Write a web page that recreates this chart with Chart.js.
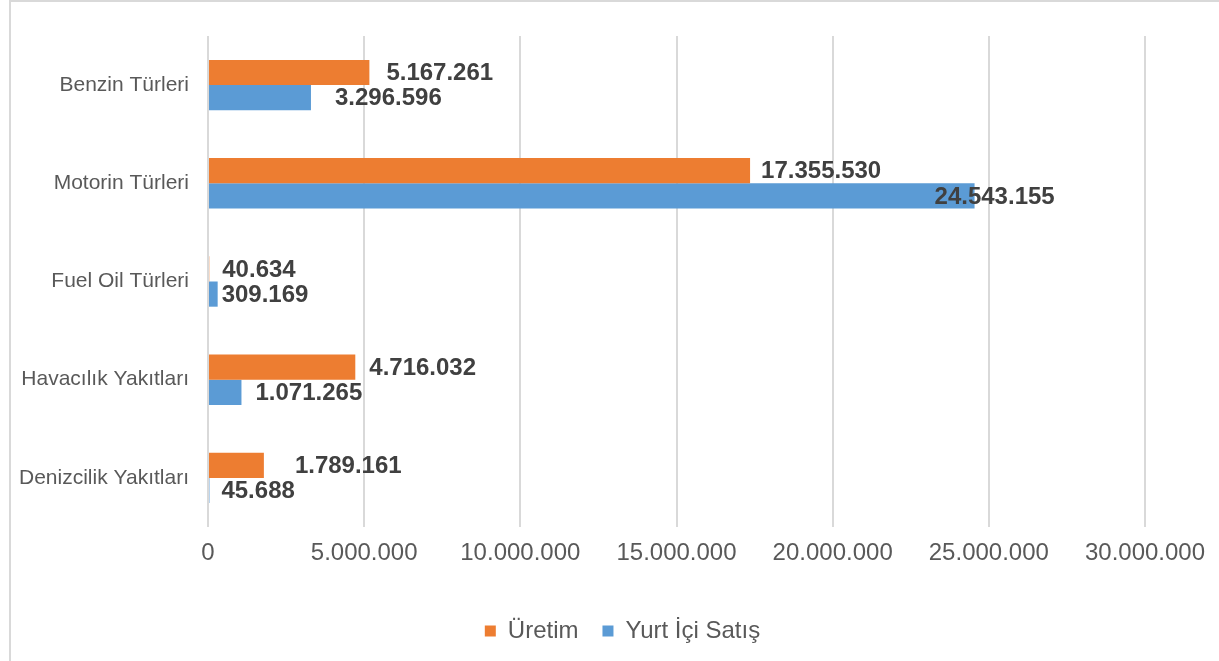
<!DOCTYPE html>
<html>
<head>
<meta charset="utf-8">
<script src="https://cdn.jsdelivr.net/npm/chart.js@4.4.1/dist/chart.umd.min.js"></script>
<style>
    body { margin: 0; background: #fff; }
    #wrap { position: relative; width: 1219px; height: 661px; }
    #frame { position: absolute; left: 9px; top: 0; right: 0; bottom: 0; border-left: 2px solid #d9d9d9; border-top: 2px solid #d9d9d9; pointer-events: none; }
</style>
</head>
<body>
<div id="wrap">
    <canvas id="chart" width="1219" height="661"></canvas>
    <div id="frame"></div>
</div>
<script>
const categories = ['Benzin Türleri', 'Motorin Türleri', 'Fuel Oil Türleri', 'Havacılık Yakıtları', 'Denizcilik Yakıtları'];
const uretim = [5167261, 17355530, 40634, 4716032, 1789161];
const yurtIciSatis = [3296596, 24543155, 309169, 1071265, 45688];
const seriesNames = ['Üretim', 'Yurt İçi Satış'];

// label shifts from bar end (px), excel had some labels moved by hand
const labelShift = [
    [17, 11, 13, 14, 31],
    [24, -40, 4, 14, 12]
];

const FONT = "'Liberation Sans', Arial, sans-serif";

function formatTr(v) {
    return String(Math.round(v)).replace(/\B(?=(\d{3})+(?!\d))/g, '.');
}

const barLabels = {
    id: 'barLabels',
    afterDatasetsDraw(chart) {
        const ctx = chart.ctx;
        ctx.save();
        ctx.font = 'bold 24px ' + FONT;
        ctx.fillStyle = '#404040';
        ctx.textAlign = 'left';
        ctx.textBaseline = 'middle';
        chart.data.datasets.forEach((ds, di) => {
            const meta = chart.getDatasetMeta(di);
            meta.data.forEach((bar, i) => {
                ctx.fillText(formatTr(ds.data[i]), bar.x + labelShift[di][i], bar.y + 1);
            });
        });
        ctx.restore();
    }
};

// legend sits centred on the page in excel, not on the plot
const shiftLegend = {
    id: 'shiftLegend',
    afterLayout(chart) {
        const lg = chart.legend;
        if (!lg) return;
        const dx = 50;
        lg.left += dx;
        lg.right += dx;
    }
};

new Chart(document.getElementById('chart'), {
    type: 'bar',
    data: {
        labels: categories,
        datasets: [
            {
                label: seriesNames[0],
                data: uretim,
                backgroundColor: '#ED7D31',
                categoryPercentage: 0.513,
                barPercentage: 1
            },
            {
                label: seriesNames[1],
                data: yurtIciSatis,
                backgroundColor: '#5B9BD5',
                categoryPercentage: 0.513,
                barPercentage: 1
            }
        ]
    },
    options: {
        indexAxis: 'y',
        responsive: false,
        animation: false,
        layout: {
            padding: { top: 36, left: 0, right: 74, bottom: 8 }
        },
        plugins: {
            tooltip: { enabled: false },
            legend: {
                position: 'bottom',
                labels: {
                    boxWidth: 11,
                    boxHeight: 11,
                    padding: 24,
                    color: '#595959',
                    font: { family: FONT, size: 24 }
                }
            }
        },
        scales: {
            x: {
                min: 0,
                max: 30000000,
                ticks: {
                    stepSize: 5000000,
                    color: '#595959',
                    padding: 12,
                    font: { family: FONT, size: 24 },
                    callback: v => formatTr(v)
                },
                grid: { color: '#d9d9d9', lineWidth: 2, drawTicks: false },
                border: { display: false },
                afterFit: scale => { scale.height = 68; }
            },
            y: {
                ticks: {
                    color: '#595959',
                    padding: 19,
                    font: { family: FONT, size: 21 }
                },
                grid: { display: false, drawTicks: false },
                border: { display: false },
                afterFit: scale => { scale.width = 208; }
            }
        }
    },
    plugins: [barLabels, shiftLegend]
});
</script>
</body>
</html>
